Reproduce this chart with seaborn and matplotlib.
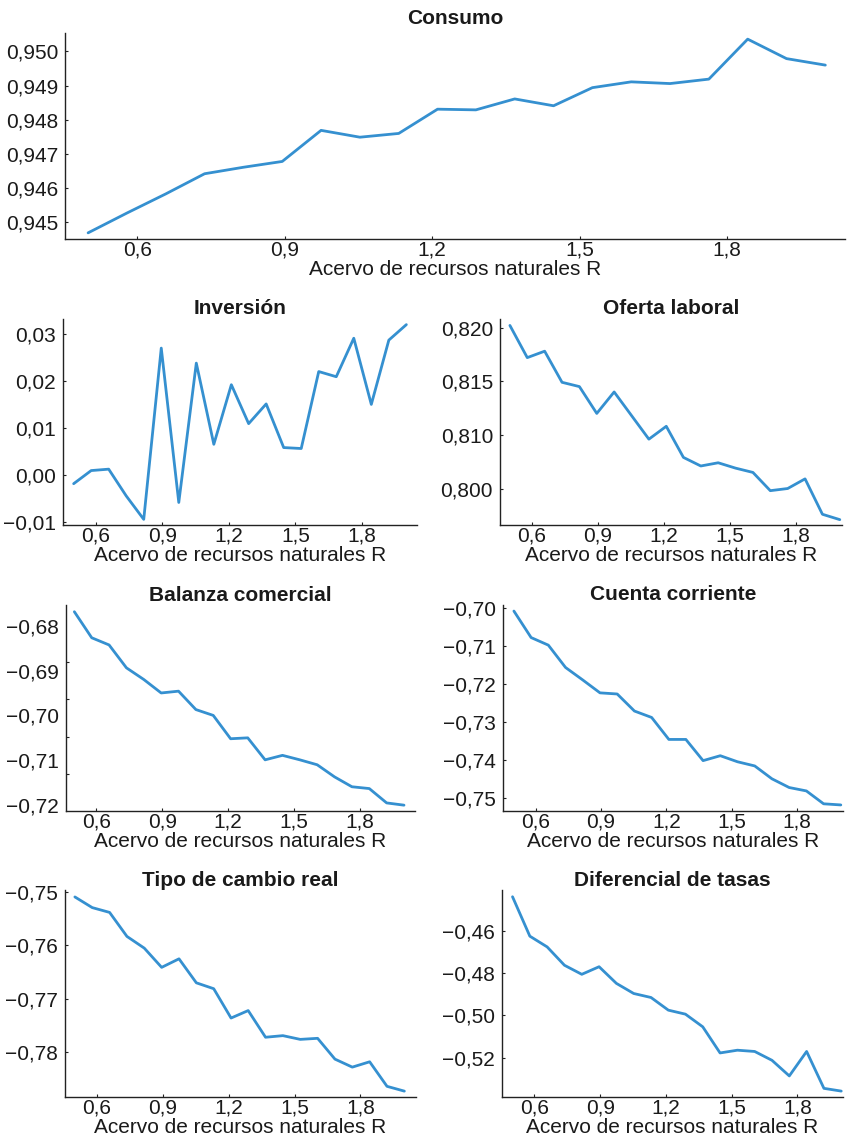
import matplotlib
matplotlib.use("Agg")
import matplotlib.pyplot as plt
import seaborn as sns

# ---------------- data ----------------
R = [0.500, 0.579, 0.658, 0.737, 0.816, 0.895, 0.974, 1.053, 1.132, 1.211,
     1.289, 1.368, 1.447, 1.526, 1.605, 1.684, 1.763, 1.842, 1.921, 2.000]

consumo = [0.94469, 0.94527, 0.94583, 0.94642, 0.94661, 0.94678, 0.94769, 0.94749,
           0.94760, 0.94831, 0.94829, 0.94861, 0.94841, 0.94894, 0.94911, 0.94906,
           0.94919, 0.95036, 0.94979, 0.94960]
inversion = [-0.0019, 0.0009, 0.0012, -0.0045, -0.0095, 0.0270, -0.0059, 0.0238,
             0.0065, 0.0192, 0.0109, 0.0151, 0.0058, 0.0056, 0.0220, 0.0209,
             0.0291, 0.0150, 0.0287, 0.0320]
oferta = [0.8202, 0.8172, 0.8178, 0.8149, 0.8145, 0.8120, 0.8140, 0.8118,
          0.8096, 0.8108, 0.8079, 0.8071, 0.8074, 0.8069, 0.8065, 0.8048,
          0.8050, 0.8059, 0.8026, 0.8021]
balanza = [-0.6769, -0.6827, -0.6843, -0.6894, -0.6920, -0.6950, -0.6946, -0.6987,
           -0.7000, -0.7052, -0.7050, -0.7099, -0.7089, -0.7099, -0.7110, -0.7137,
           -0.7159, -0.7163, -0.7195, -0.7200]
cuenta = [-0.7007, -0.7077, -0.7097, -0.7156, -0.7189, -0.7223, -0.7226, -0.7271,
          -0.7288, -0.7346, -0.7346, -0.7402, -0.7389, -0.7405, -0.7416, -0.7450,
          -0.7473, -0.7482, -0.7516, -0.7519]
tipo_cambio = [-0.7509, -0.7529, -0.7538, -0.7583, -0.7605, -0.7641, -0.7625, -0.7670,
               -0.7681, -0.7736, -0.7722, -0.7772, -0.7769, -0.7776, -0.7774, -0.7813,
               -0.7828, -0.7818, -0.7864, -0.7873]
diferencial = [-0.4437, -0.4624, -0.4675, -0.4762, -0.4805, -0.4769, -0.4848, -0.4896,
               -0.4915, -0.4975, -0.4994, -0.5054, -0.5178, -0.5165, -0.5171, -0.5213,
               -0.5287, -0.5171, -0.5346, -0.5359]

titles = ["Consumo", "Inversión", "Oferta laboral", "Balanza comercial",
          "Cuenta corriente", "Tipo de cambio real", "Diferencial de tasas"]
xlabel = "Acervo de recursos naturales R"

xticks = [0.6, 0.9, 1.2, 1.5, 1.8]
xtick_labels = ["0,6", "0,9", "1,2", "1,5", "1,8"]

consumo_yticks = [0.945, 0.946, 0.947, 0.948, 0.949, 0.950]
consumo_ylabels = ["0,945", "0,946", "0,947", "0,948", "0,949", "0,950"]
inversion_yticks = [-0.01, 0.00, 0.01, 0.02, 0.03]
inversion_ylabels = ["−0,01", "0,00", "0,01", "0,02", "0,03"]
oferta_yticks = [0.805, 0.810, 0.815, 0.820]
oferta_ylabels = ["0,800", "0,810", "0,815", "0,820"]
balanza_yticks = [-0.72, -0.71, -0.70, -0.69, -0.68]
balanza_ylabels = ["−0,72", "−0,71", "−0,70", "−0,69", "−0,68"]
balanza_tickmarks = [-0.7131, -0.7049, -0.6964, -0.6882, -0.6800]
cuenta_yticks = [-0.75, -0.74, -0.73, -0.72, -0.71, -0.70]
cuenta_ylabels = ["−0,75", "−0,74", "−0,73", "−0,72", "−0,71", "−0,70"]
tipo_yticks = [-0.78, -0.77, -0.76, -0.75]
tipo_ylabels = ["−0,78", "−0,77", "−0,76", "−0,75"]
dif_yticks = [-0.52, -0.50, -0.48, -0.46]
dif_ylabels = ["−0,52", "−0,50", "−0,48", "−0,46"]

# ---------------- style ----------------
sns.set_theme(style="ticks")
plt.rcParams['font.family'] = ['Liberation Sans', 'DejaVu Sans']
BLUE = "#3590D0"
FS = 15

W, H = 849, 1139
fig = plt.figure(figsize=(W / 100, H / 100), dpi=100)


def add_ax(l, r, t, b):
    return fig.add_axes([l / W, 1 - b / H, (r - l) / W, (b - t) / H])


panels = [
    dict(title=titles[0], y=consumo, box=(65, 845, 33, 239), xlim=(0.453, 2.04),
         ylim=(0.94451, 0.95054), yt=consumo_yticks, yl=consumo_ylabels, tpad=9),
    dict(title=titles[1], y=inversion, box=(63, 417, 319, 525), xlim=(0.452, 2.048),
         ylim=(-0.0107, 0.0332), yt=inversion_yticks, yl=inversion_ylabels, tpad=5),
    dict(title=titles[2], y=oferta, box=(500, 842, 319, 525), xlim=(0.455, 2.01),
         ylim=(0.8016, 0.8208), yt=oferta_yticks, yl=oferta_ylabels, tpad=5),
    dict(title=titles[3], y=balanza, box=(66, 415, 605, 811), xlim=(0.462, 2.05),
         ylim=(-0.7213, -0.6754), yt=balanza_yticks, yl=balanza_ylabels, tpad=3,
         marks=balanza_tickmarks),
    dict(title=titles[4], y=cuenta, box=(503, 843, 605, 811), xlim=(0.45, 2.01),
         ylim=(-0.7535, -0.6991), yt=cuenta_yticks, yl=cuenta_ylabels, tpad=5),
    dict(title=titles[5], y=tipo_cambio, box=(65, 416, 890, 1097), xlim=(0.455, 2.053),
         ylim=(-0.7884, -0.7496), yt=tipo_yticks, yl=tipo_ylabels, tpad=3),
    dict(title=titles[6], y=diferencial, box=(502, 843, 890, 1097), xlim=(0.452, 2.008),
         ylim=(-0.5387, -0.4405), yt=dif_yticks, yl=dif_ylabels, tpad=4),
]

for p in panels:
    l, r, t, b = p["box"]
    ax = add_ax(l, r, t, b)
    sns.lineplot(x=R, y=p["y"], ax=ax, color=BLUE, linewidth=2.0)
    ax.set_xlim(*p["xlim"])
    ax.set_ylim(*p["ylim"])
    ax.set_xticks(xticks)
    ax.set_xticklabels(xtick_labels)
    ax.set_yticks(p["yt"])
    ax.set_yticklabels(p["yl"])
    sns.despine(ax=ax)
    for s in ("left", "bottom"):
        ax.spines[s].set_color("#222222")
        ax.spines[s].set_linewidth(1.0)
    ax.tick_params(axis="x", direction="in", length=2.2, width=0.8, color="#222222",
                   labelsize=FS, pad=1, labelcolor="#1a1a1a")
    ax.tick_params(axis="y", direction="in", length=2.2, width=0.8, color="#222222",
                   labelsize=FS, pad=5, labelcolor="#1a1a1a")
    if "marks" in p:
        ax.tick_params(axis="y", which="major", length=0)
        ax.set_yticks(p["marks"], minor=True)
        ax.tick_params(axis="y", which="minor", direction="in", length=2.2, width=0.8,
                       color="#222222")
    ax.set_title(p["title"], fontsize=FS, fontweight="bold", pad=p["tpad"] * 0.72,
                 color="#1a1a1a")
    ax.set_xlabel(xlabel, fontsize=FS, color="#1a1a1a")
    ax.xaxis.set_label_coords(0.5, -21 / (b - t))
    ax.set_ylabel("")

fig.savefig("out.png", dpi=100)
